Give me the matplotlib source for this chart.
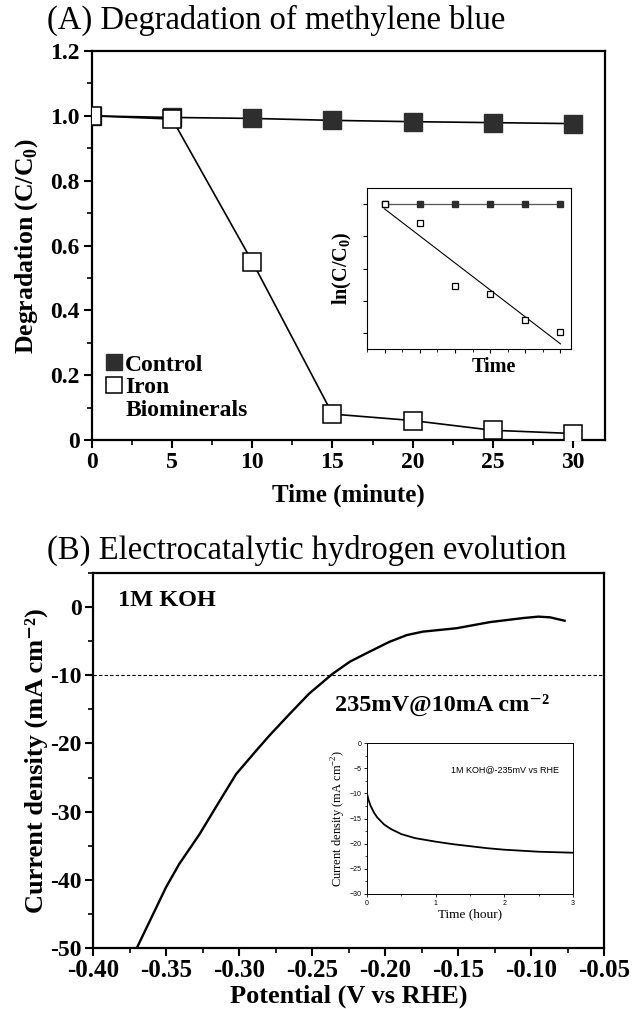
import matplotlib
matplotlib.use("Agg")
import matplotlib.pyplot as plt
from matplotlib.lines import Line2D
from matplotlib.ticker import MultipleLocator

SERIF = ['Liberation Serif', 'DejaVu Serif']
plt.rcParams['font.family'] = SERIF
plt.rcParams['mathtext.fontset'] = 'custom'
plt.rcParams['mathtext.rm'] = 'Liberation Serif'
plt.rcParams['mathtext.bf'] = 'Liberation Serif:bold'

# ---------------- data ----------------
time_min = [0, 5, 10, 15, 20, 25, 30]
control = [1.0, 0.995, 0.992, 0.986, 0.982, 0.979, 0.976]
iron = [1.0, 0.99, 0.55, 0.08, 0.06, 0.03, 0.02]

inset_t = [0, 1, 2, 3, 4, 5]
inset_control = [0, 0, 0, 0, 0, 0]
inset_iron = [0, -0.59, -2.55, -2.79, -3.59, -3.98]
inset_fit_x = [0, 5]
inset_fit_y = [-0.15, -4.34]

lsv_potential = [-0.370, -0.361, -0.350, -0.341, -0.327, -0.316, -0.302, -0.288,
                 -0.279, -0.265, -0.252, -0.236, -0.224, -0.213, -0.197, -0.185,
                 -0.174, -0.151, -0.128, -0.105, -0.095, -0.087, -0.077]
lsv_current = [-50.0, -46.0, -41.1, -37.7, -33.3, -29.4, -24.5, -21.0,
               -18.8, -15.6, -12.7, -9.8, -8.0, -6.8, -5.1, -4.1,
               -3.6, -3.1, -2.2, -1.6, -1.4, -1.5, -2.0]

stab_time = [0, 0.02, 0.05, 0.1, 0.15, 0.25, 0.35, 0.5, 0.7, 1.0, 1.25, 1.5,
             1.75, 2.0, 2.25, 2.5, 2.75, 3.0]
stab_current = [-10.0, -11.2, -12.4, -13.8, -14.8, -16.2, -17.1, -18.1, -18.9,
                -19.6, -20.1, -20.5, -20.9, -21.2, -21.4, -21.6, -21.7, -21.8]

xticks_a = [0, 5, 10, 15, 20, 25, 30]
yticks_a = [0, 0.2, 0.4, 0.6, 0.8, 1.0, 1.2]
ytick_labels_a = ['0', '0.2', '0.4', '0.6', '0.8', '1.0', '1.2']
xticks_b = [-0.40, -0.35, -0.30, -0.25, -0.20, -0.15, -0.10, -0.05]
xtick_labels_b = ['-0.40', '-0.35', '-0.30', '-0.25', '-0.20', '-0.15', '-0.10', '-0.05']
yticks_b = [0, -10, -20, -30, -40, -50]
ytick_labels_b = ['0', '-10', '-20', '-30', '-40', '-50']

W, H = 636, 1009
fig = plt.figure(figsize=(W / 100, H / 100), dpi=100)

def box(l, t, r, b):
    return [l / W, 1 - b / H, (r - l) / W, (b - t) / H]

dark = '#2e2e2e'

# ---------------- Panel A ----------------
axA = fig.add_axes(box(92, 51, 605, 440))
axA.plot(time_min, control, '-', color='black', lw=1.2, marker='s', ms=13,
         mfc=dark, mec=dark, mew=1.0, zorder=3)
axA.plot(time_min, iron, '-', color='black', lw=1.2, marker='s', ms=13,
         mfc='white', mec='black', mew=1.1, zorder=4)
axA.set_xlim(0, 32)
axA.set_ylim(0, 1.2)
axA.set_xticks(xticks_a)
axA.set_xticklabels([str(v) for v in xticks_a], fontsize=17, fontweight='bold')
axA.set_yticks(yticks_a)
axA.set_yticklabels(ytick_labels_a, fontsize=17, fontweight='bold')
axA.xaxis.set_minor_locator(MultipleLocator(2.5))
axA.yaxis.set_minor_locator(MultipleLocator(0.1))
axA.tick_params(which='major', direction='out', length=6, width=1.5, pad=3)
axA.tick_params(which='minor', direction='out', length=3.5, width=1.2)
for s in axA.spines.values():
    s.set_linewidth(1.6)
axA.set_xlabel('Time (minute)', fontsize=18, fontweight='bold', labelpad=7)
axA.set_ylabel(r'Degradation (C/C$_\mathbf{0}$)', fontsize=18.5, fontweight='bold',
               labelpad=7)
fig.text(47 / W, 1 - 29 / H, '(A) Degradation of methylene blue', fontsize=23.5,
         ha='left', va='baseline')

handles = [Line2D([], [], ls='none', marker='s', ms=11, mfc=dark, mec=dark),
           Line2D([], [], ls='none', marker='s', ms=11, mfc='white', mec='black', mew=1.1),
           Line2D([], [], ls='none')]
axA.legend(handles, ['Control', 'Iron', 'Biominerals'], loc='lower left',
           bbox_to_anchor=(-0.019, -0.012), frameon=False, handlelength=0.7,
           handletextpad=0.12, labelspacing=0.05, borderpad=0.5,
           prop=dict(family='Liberation Serif', weight='bold', size=17))

# inset A
axAi = fig.add_axes(box(367, 188, 571, 349))
axAi.plot(inset_t, inset_control, '-', color='#555555', lw=0.9, marker='s', ms=5,
          mfc=dark, mec=dark)
axAi.plot(inset_fit_x, inset_fit_y, '-', color='black', lw=0.8)
axAi.plot(inset_t, inset_iron, ls='none', marker='s', ms=5, mfc='white',
          mec='black', mew=0.9)
axAi.set_xlim(-0.5, 5.3)
axAi.set_ylim(-4.5, 0.5)
axAi.set_xticks(inset_t)
axAi.set_xticklabels([])
axAi.xaxis.set_minor_locator(MultipleLocator(0.5))
axAi.set_yticks([-4, -3, -2, -1, 0])
axAi.set_yticklabels([])
axAi.tick_params(which='major', direction='out', length=3, width=0.8)
axAi.tick_params(which='minor', direction='out', length=1.8, width=0.6)
for s in axAi.spines.values():
    s.set_linewidth(0.8)
axAi.set_xlabel('Time', fontsize=14.5, fontweight='bold')
axAi.xaxis.set_label_coords(0.62, -0.05, transform=axAi.transAxes)
axAi.xaxis.label.set_va('top')
axAi.set_ylabel(r'ln(C/C$_\mathbf{0}$)', fontsize=14.5, fontweight='bold', labelpad=3)

# ---------------- Panel B ----------------
axB = fig.add_axes(box(93, 573, 604, 948))
axB.plot(lsv_potential, lsv_current, '-', color='black', lw=1.7)
axB.axhline(-10, color='black', lw=0.8, ls=(0, (3, 2)))
axB.set_xlim(-0.40, -0.05)
axB.set_ylim(-50, 5)
axB.set_xticks(xticks_b)
axB.set_xticklabels(xtick_labels_b, fontsize=18, fontweight='bold')
axB.set_yticks(yticks_b)
axB.set_yticklabels(ytick_labels_b, fontsize=17, fontweight='bold')
axB.xaxis.set_minor_locator(MultipleLocator(0.025))
axB.yaxis.set_minor_locator(MultipleLocator(5))
axB.tick_params(which='major', direction='out', length=6, width=1.5, pad=2)
axB.tick_params(which='minor', direction='out', length=3.5, width=1.2)
for s in axB.spines.values():
    s.set_linewidth(1.6)
axB.set_xlabel('Potential (V vs RHE)', fontsize=19, fontweight='bold', labelpad=2)
axB.set_ylabel('Current density (mA cm\u207b\u00b2)', fontsize=19,
               fontweight='bold', labelpad=2)
fig.text(47 / W, 1 - 559 / H, '(B) Electrocatalytic hydrogen evolution',
         fontsize=23.5, ha='left', va='baseline')
axB.text(0.048, 0.928, '1M KOH', transform=axB.transAxes, fontsize=17.5,
         fontweight='bold', va='center', ha='left')
axB.text(-0.234, -14.3, '235mV@10mA cm\u207b\u00b2', fontsize=17.5,
         fontweight='bold', va='center', ha='left')

# inset B
axBi = fig.add_axes(box(367, 743, 573, 894))
axBi.plot(stab_time, stab_current, '-', color='black', lw=1.3)
axBi.set_xlim(0, 3)
axBi.set_ylim(-30, 0)
axBi.set_xticks([0, 1, 2, 3])
axBi.set_yticks([0, -5, -10, -15, -20, -25, -30])
axBi.xaxis.set_minor_locator(MultipleLocator(0.5))
axBi.yaxis.set_minor_locator(MultipleLocator(2.5))
axBi.tick_params(which='major', direction='out', length=2.5, width=0.6,
                 labelsize=5, pad=1.5)
axBi.tick_params(which='minor', direction='out', length=1.5, width=0.5)
for lab in axBi.get_xticklabels() + axBi.get_yticklabels():
    lab.set_family('Liberation Sans')
for s in axBi.spines.values():
    s.set_linewidth(0.7)
axBi.set_xlabel('Time (hour)', fontsize=9.5, labelpad=1)
axBi.set_ylabel(r'Current density (mA cm$^{-2}$)', fontsize=9, labelpad=1)
axBi.text(0.41, 0.82, '1M KOH@-235mV vs RHE', transform=axBi.transAxes,
          fontsize=6.5, family='Liberation Sans', ha='left', va='center')

fig.savefig('out.png', dpi=100)
